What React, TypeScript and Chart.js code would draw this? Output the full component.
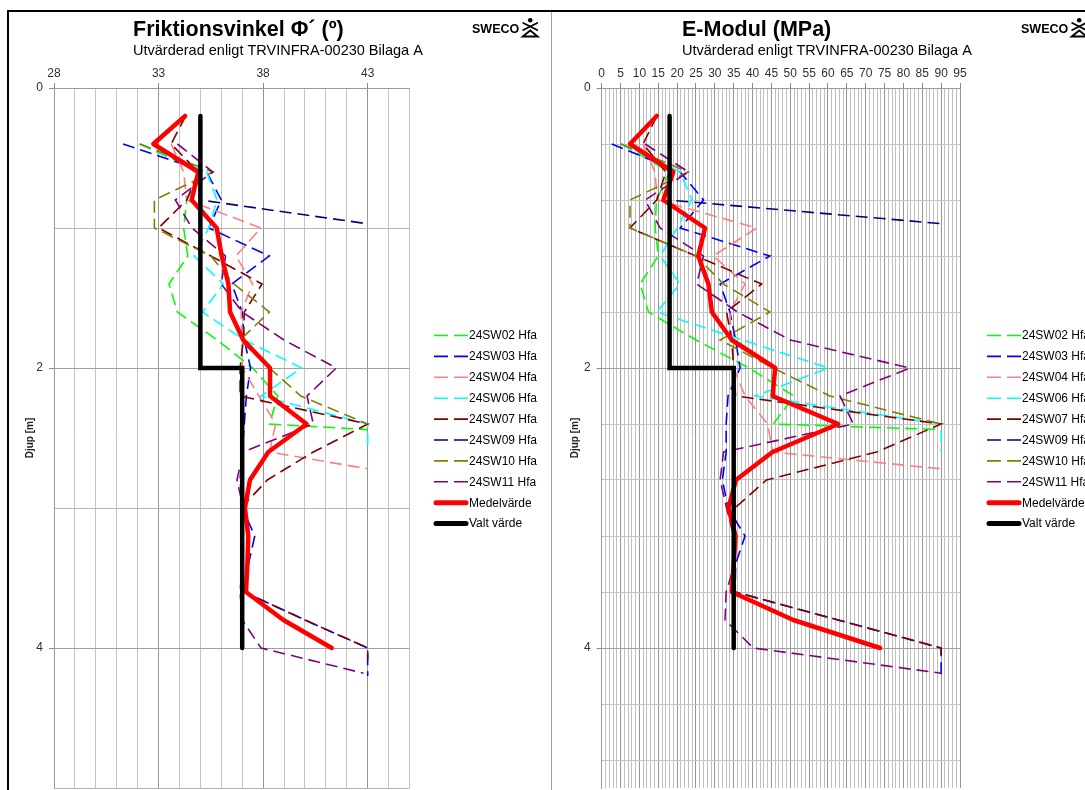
import React, { useEffect, useRef } from 'react';
import { Chart, registerables } from 'chart.js';

Chart.register(...registerables);

const FONT = "'Liberation Sans', Arial, Helvetica, sans-serif";

// ---------- series metadata ----------
const seriesNames = ['24SW02 Hfa', '24SW03 Hfa', '24SW04 Hfa', '24SW06 Hfa', '24SW07 Hfa', '24SW09 Hfa', '24SW10 Hfa', '24SW11 Hfa'];
const seriesColors = ['#00FF00', '#0000FF', '#FF8080', '#00FFFF', '#800000', '#000080', '#808000', '#800080'];
const meanName = 'Medelvärde';
const chosenName = 'Valt värde';

// ---------- data (depth in m, friction angle in degrees, E-modulus in MPa) ----------
const sw02Depth = [0.4, 0.6, 0.8, 1.0, 1.2, 1.4, 1.6, 1.8, 2.0, 2.2, 2.4, 2.44];
const sw02Phi = [32.1, 35.0, 34.35, 34.2, 34.4, 33.5, 33.9, 35.8, 37.5, 38.7, 38.3, 43.0];
const sw02E = [5.3, 18.0, 14.5, 14.2, 15.0, 10.2, 12.4, 25.0, 39.0, 51.0, 45.5, 90.0];

const sw03Depth = [0.4, 0.6, 0.8, 1.0, 1.2, 1.4, 1.6, 1.8, 2.0, 2.2, 2.4, 2.6, 2.8, 3.0, 3.2, 3.4, 3.6, 3.8, 4.0, 4.2];
const sw03Phi = [31.3, 35.3, 36.0, 35.4, 38.3, 36.5, 37.0, 37.1, 37.4, 37.2, 37.1, 37.0, 36.9, 37.0, 37.6, 37.3, 37.1, 40.0, 43.0, 43.0];
const sw03E = [2.65, 20.8, 27.0, 20.8, 44.6, 31.4, 34.0, 35.5, 36.7, 33.5, 33.0, 33.0, 32.0, 33.5, 38.0, 35.5, 35.4, 62.7, 90.0, 90.0];

const sw04Depth = [0.4, 0.6, 0.8, 1.0, 1.2, 1.4, 1.6, 1.8, 2.0, 2.2, 2.4, 2.6, 2.72];
const sw04Phi = [33.6, 34.2, 34.35, 37.9, 36.7, 37.5, 36.95, 37.0, 37.0, 37.8, 38.6, 38.3, 43.0];
const sw04E = [11.0, 14.1, 14.8, 41.1, 29.6, 38.0, 34.0, 34.5, 35.0, 38.0, 44.0, 45.3, 90.0];

const sw06Depth = [0.4, 0.6, 0.8, 1.0, 1.2, 1.4, 1.6, 1.8, 2.0, 2.2, 2.4, 2.6];
const sw06Phi = [32.1, 35.3, 35.8, 35.4, 34.7, 36.1, 35.1, 37.1, 39.85, 37.9, 43.0, 43.0];
const sw06E = [5.3, 20.8, 23.9, 20.0, 15.5, 20.8, 14.6, 37.3, 60.1, 40.7, 90.0, 90.0];

const sw07Depth = [0.2, 0.4, 0.6, 0.8, 1.0, 1.2, 1.4, 1.6, 1.8, 2.0, 2.2, 2.4, 2.6, 2.8, 3.0, 3.2, 3.4, 3.6, 3.8, 4.0, 4.08];
const sw07Phi = [34.3, 33.6, 34.9, 34.35, 33.0, 35.5, 37.95, 37.1, 37.05, 36.9, 36.9, 43.0, 40.4, 38.2, 36.95, 37.0, 37.0, 37.1, 40.0, 43.0, 43.0];
const sw07E = [14.6, 11.0, 17.0, 14.6, 7.5, 25.0, 42.4, 33.1, 34.5, 35.0, 35.5, 90.0, 72.9, 43.7, 35.3, 35.0, 35.0, 35.4, 62.7, 90.0, 90.0];

const sw09Depth = [0.6, 0.8, 0.97];
const sw09Phi = [35.0, 35.0, 43.0];
const sw09E = [18.0, 17.7, 90.5];

const sw10Depth = [0.4, 0.6, 0.8, 1.0, 1.2, 1.4, 1.6, 1.8, 2.0, 2.2, 2.4];
const sw10Phi = [32.1, 35.6, 32.8, 32.8, 35.5, 36.6, 38.3, 36.9, 38.3, 39.8, 43.0];
const sw10E = [5.0, 23.0, 7.5, 7.5, 25.0, 32.3, 44.6, 31.4, 45.5, 60.5, 90.0];

const sw11Depth = [0.4, 0.6, 0.8, 1.0, 1.2, 1.4, 1.6, 1.8, 2.0, 2.2, 2.4, 2.6, 2.8, 3.0, 3.2, 3.4, 3.6, 3.8, 4.0, 4.18];
const sw11Phi = [33.9, 35.6, 33.8, 34.6, 36.2, 36.0, 37.0, 39.0, 41.5, 40.1, 40.4, 37.05, 36.75, 37.05, 37.0, 37.0, 36.9, 37.0, 37.9, 42.8];
const sw11E = [11.5, 23.0, 11.5, 15.5, 27.0, 25.2, 36.0, 50.0, 81.7, 63.2, 66.7, 32.3, 31.4, 33.1, 35.0, 35.3, 33.0, 32.7, 40.2, 90.0];

const meanDepth = [0.2, 0.4, 0.6, 0.8, 1.0, 1.2, 1.4, 1.6, 1.8, 2.0, 2.2, 2.4, 2.6, 2.8, 3.0, 3.2, 3.4, 3.6, 3.8, 4.0];
const meanPhi = [34.27, 32.75, 34.9, 34.58, 35.78, 36.02, 36.34, 36.42, 37.05, 38.33, 38.33, 40.08, 38.25, 37.37, 37.13, 37.29, 37.25, 37.18, 38.97, 41.28];
const meanE = [14.6, 7.5, 19.0, 16.35, 27.4, 25.6, 28.3, 29.2, 34.5, 46.0, 45.3, 62.7, 45.3, 35.6, 33.6, 35.5, 35.0, 34.5, 50.8, 73.8];

const chosenDepth = [0.2, 2.0, 2.0, 4.0];
const chosenPhi = [35, 35, 37, 37];
const chosenE = [18, 18, 35, 35];

// ---------- tick labels ----------
const phiTickLabels = [28, 33, 38, 43];
const eTickLabels = [0, 5, 10, 15, 20, 25, 30, 35, 40, 45, 50, 55, 60, 65, 70, 75, 80, 85, 90, 95];
const depthTickLabels = [0, 2, 4];

const seriesDepths = [sw02Depth, sw03Depth, sw04Depth, sw06Depth, sw07Depth, sw09Depth, sw10Depth, sw11Depth];
const seriesPhi = [sw02Phi, sw03Phi, sw04Phi, sw06Phi, sw07Phi, sw09Phi, sw10Phi, sw11Phi];
const seriesE = [sw02E, sw03E, sw04E, sw06E, sw07E, sw09E, sw10E, sw11E];

type Panel = {
  kind: 'phi' | 'e';
  pageLeft: number;
  width: number;
  xMin: number;
  xMax: number;
  xLabels: number[];
  plotLeft: number;
  plotRight: number;
  yGridStep: number;
  yGridMax: number;
  yTitleX: number;
  title: string;
  titleX: number;
  legendX: number;
  swecoX: number;
};

const PAGE_H = 790;
const CANVAS_H = 804;
const BOTTOM_PAD = 16;
const PLOT_TOP = 88;
const SUBTITLE = 'Utvärderad enligt TRVINFRA-00230 Bilaga A';

const panels: Panel[] = [
  {
    kind: 'phi', pageLeft: 0, width: 550, xMin: 28, xMax: 45, xLabels: phiTickLabels,
    plotLeft: 54, plotRight: 409.5, yGridStep: 1, yGridMax: 5, yTitleX: 30,
    title: 'Friktionsvinkel Φ´ (º)', titleX: 133, legendX: 434, swecoX: 472,
  },
  {
    kind: 'e', pageLeft: 550, width: 535, xMin: 0, xMax: 95, xLabels: eTickLabels,
    plotLeft: 601.7, plotRight: 960, yGridStep: 0.4, yGridMax: 4.8, yTitleX: 575,
    title: 'E-Modul (MPa)', titleX: 682, legendX: 987, swecoX: 1021,
  },
];

function toPoints(depth: number[], vals: number[]) {
  return depth.map((d, i) => ({ x: vals[i], y: d }));
}

function buildDatasets(kind: 'phi' | 'e') {
  const ds: any[] = seriesNames.map((name, i) => ({
    label: name,
    data: toPoints(seriesDepths[i], kind === 'phi' ? seriesPhi[i] : seriesE[i]),
    borderColor: seriesColors[i],
    backgroundColor: seriesColors[i],
    borderWidth: 1.6,
    borderDash: [12, 6],
    borderCapStyle: 'butt',
    borderJoinStyle: 'miter',
    pointRadius: 0,
    pointHoverRadius: 0,
    showLine: true,
    fill: false,
    tension: 0,
    order: 9 - i,
    _dashed: true,
  }));
  ds.push({
    label: meanName,
    data: toPoints(meanDepth, kind === 'phi' ? meanPhi : meanE),
    borderColor: '#FF0000', backgroundColor: '#FF0000',
    borderWidth: 4.5, borderCapStyle: 'round', borderJoinStyle: 'round',
    pointRadius: 0, pointHoverRadius: 0, showLine: true, fill: false, tension: 0,
    order: 1, _dashed: false,
  });
  ds.push({
    label: chosenName,
    data: toPoints(chosenDepth, kind === 'phi' ? chosenPhi : chosenE),
    borderColor: '#000000', backgroundColor: '#000000',
    borderWidth: 4.5, borderCapStyle: 'round', borderJoinStyle: 'miter',
    pointRadius: 0, pointHoverRadius: 0, showLine: true, fill: false, tension: 0,
    order: 0, _dashed: false,
  });
  return ds;
}

function drawLogo(ctx: CanvasRenderingContext2D, x: number, top: number) {
  const cx = x + 8;
  ctx.save();
  ctx.strokeStyle = '#000';
  ctx.fillStyle = '#000';
  ctx.lineWidth = 1.8;
  ctx.lineCap = 'round';
  ctx.beginPath();
  ctx.arc(cx, top + 2.2, 2.3, 0, Math.PI * 2);
  ctx.fill();
  ctx.beginPath();
  ctx.moveTo(cx - 7, top + 5);
  ctx.lineTo(cx + 7, top + 12);
  ctx.moveTo(cx + 7, top + 5);
  ctx.lineTo(cx - 7, top + 12);
  ctx.stroke();
  ctx.beginPath();
  ctx.moveTo(cx - 7.5, top + 18.5);
  ctx.lineTo(cx, top + 12.5);
  ctx.lineTo(cx + 7.5, top + 18.5);
  ctx.closePath();
  ctx.stroke();
  ctx.restore();
}

function decorPlugin(p: Panel) {
  return {
    id: 'panelDecor' + p.kind,
    afterDraw(chart: any) {
      const ctx: CanvasRenderingContext2D = chart.ctx;
      const off = p.pageLeft;
      ctx.save();
      ctx.fillStyle = '#000';
      ctx.textAlign = 'left';
      ctx.textBaseline = 'alphabetic';
      ctx.font = `bold 21.5px ${FONT}`;
      ctx.fillText(p.title, p.titleX - off, 36);
      ctx.font = `14.5px ${FONT}`;
      ctx.fillText(SUBTITLE, p.titleX - off, 55);
      ctx.font = `bold 12.5px ${FONT}`;
      ctx.fillText('SWECO', p.swecoX - off, 33);
      const w = ctx.measureText('SWECO').width;
      drawLogo(ctx, p.swecoX - off + w + 3, 18);

      // legend
      const legendTop = 335.5;
      const legendStep = 20.9;
      chart.data.datasets.forEach((ds: any, i: number) => {
        const y = legendTop + i * legendStep;
        const x0 = p.legendX - off;
        ctx.beginPath();
        ctx.strokeStyle = ds.borderColor;
        if (ds._dashed) {
          ctx.lineWidth = 1.6;
          ctx.setLineDash([14, 6]);
          ctx.lineCap = 'butt';
          ctx.moveTo(x0, y);
          ctx.lineTo(x0 + 34, y);
        } else {
          ctx.lineWidth = 5;
          ctx.setLineDash([]);
          ctx.lineCap = 'round';
          ctx.moveTo(x0 + 2, y);
          ctx.lineTo(x0 + 32, y);
        }
        ctx.stroke();
        ctx.setLineDash([]);
        ctx.fillStyle = '#000';
        ctx.font = `12px ${FONT}`;
        ctx.textBaseline = 'middle';
        ctx.fillText(ds.label, x0 + 35, y + 0.5);
      });
      ctx.restore();
    },
  };
}

function isLabel(list: number[], v: number) {
  return list.some((l) => Math.abs(l - v) < 1e-6);
}

function makeConfig(p: Panel): any {
  const xMajor = (v: number) => Math.abs(((v - p.xMin) % 5 + 5) % 5) < 1e-6;
  return {
    type: 'scatter',
    data: { datasets: buildDatasets(p.kind) },
    options: {
      animation: false,
      responsive: false,
      events: [],
      devicePixelRatio: 1,
      layout: {
        padding: { left: 0, top: 0, right: p.width - (p.plotRight - p.pageLeft), bottom: BOTTOM_PAD },
      },
      plugins: { legend: { display: false }, tooltip: { enabled: false }, title: { display: false } },
      scales: {
        x: {
          type: 'linear',
          position: 'top',
          min: p.xMin,
          max: p.xMax,
          afterFit: (s: any) => { s.height = PLOT_TOP; },
          afterBuildTicks: (s: any) => {
            const t: any[] = [];
            for (let v = p.xMin; v <= p.xMax + 1e-9; v += 1) t.push({ value: v });
            s.ticks = t;
          },
          ticks: {
            autoSkip: false,
            maxRotation: 0,
            minRotation: 0,
            padding: 2,
            color: '#303030',
            font: { family: FONT, size: 12 },
            callback: (v: number) => (isLabel(p.xLabels, v) ? String(v) : ''),
          },
          grid: {
            lineWidth: 1,
            tickLength: 5,
            color: (c: any) => (c.tick && xMajor(c.tick.value) ? '#959595' : (p.kind === 'e' ? '#bfbfbf' : '#c4c4c4')),
            tickColor: (c: any) => (c.tick && isLabel(p.xLabels, c.tick.value) ? '#8a8a8a' : 'rgba(0,0,0,0)'),
          },
          border: { display: true, color: '#9a9a9a', width: 1 },
        },
        y: {
          type: 'linear',
          position: 'left',
          reverse: true,
          min: 0,
          max: 5,
          afterFit: (s: any) => { s.width = p.plotLeft - p.pageLeft; },
          afterBuildTicks: (s: any) => {
            const t: any[] = [];
            for (let i = 0; i * p.yGridStep <= p.yGridMax + 1e-9; i++) t.push({ value: Math.round(i * p.yGridStep * 100) / 100 });
            s.ticks = t;
          },
          title: {
            display: true,
            text: 'Djup [m]',
            color: '#202020',
            font: { family: FONT, size: 10, weight: 'bold' },
            padding: { top: p.yTitleX - p.pageLeft - 6, bottom: 0 },
          },
          ticks: {
            autoSkip: false,
            padding: 6,
            color: '#303030',
            font: { family: FONT, size: 12 },
            callback: (v: number) => (isLabel(depthTickLabels, v) ? String(Math.round(v)) : ''),
          },
          grid: {
            lineWidth: 1,
            tickLength: 5,
            color: (c: any) => (c.tick && isLabel(depthTickLabels, c.tick.value) ? '#a0a0a0' : (p.kind === 'e' ? '#c4c4c4' : '#b4b4b4')),
            tickColor: (c: any) => (c.tick && isLabel(depthTickLabels, c.tick.value) ? '#8a8a8a' : 'rgba(0,0,0,0)'),
          },
          border: { display: true, color: '#9a9a9a', width: 1 },
        },
      },
    },
    plugins: [decorPlugin(p)],
  };
}

function PanelChart({ panel }: { panel: Panel }) {
  const ref = useRef<HTMLCanvasElement | null>(null);
  useEffect(() => {
    if (!ref.current) return;
    const chart = new Chart(ref.current, makeConfig(panel));
    return () => chart.destroy();
  }, [panel]);
  return (
    <canvas
      ref={ref}
      width={panel.width}
      height={CANVAS_H}
      style={{ position: 'absolute', left: panel.pageLeft, top: 0, width: panel.width, height: CANVAS_H }}
    />
  );
}

export default function App() {
  return (
    <div
      style={{
        position: 'fixed', left: 0, top: 0, width: 1085, height: PAGE_H,
        overflow: 'hidden', background: '#ffffff',
      }}
    >
      {panels.map((p) => (
        <PanelChart key={p.kind} panel={p} />
      ))}
      <div style={{ position: 'absolute', left: 7, top: 10, width: 1078, height: 2, background: '#000' }} />
      <div style={{ position: 'absolute', left: 7, top: 10, width: 2, height: 780, background: '#000' }} />
      <div style={{ position: 'absolute', left: 551, top: 12, width: 1, height: 778, background: '#a0a0a0' }} />
    </div>
  );
}
